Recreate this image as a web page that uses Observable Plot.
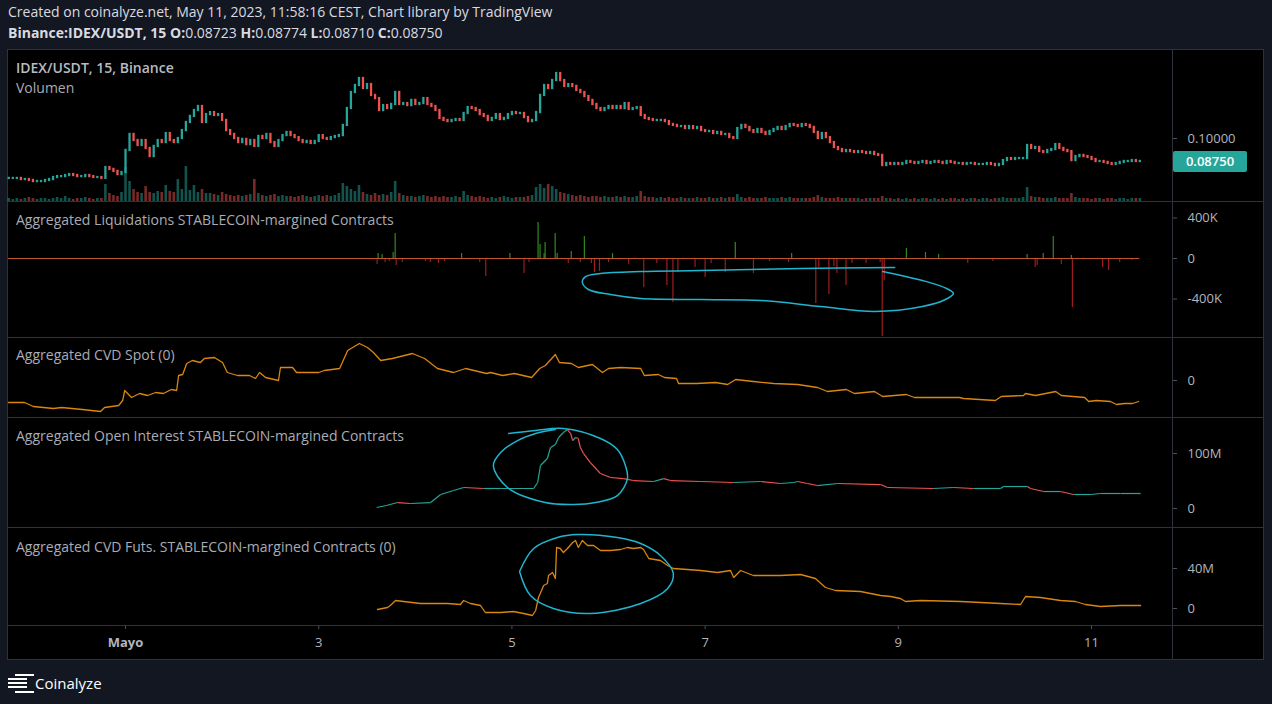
<!DOCTYPE html>
<html><head><meta charset="utf-8">
<script src="https://cdn.jsdelivr.net/npm/d3@7"></script>
<script src="https://cdn.jsdelivr.net/npm/@observablehq/plot@0.6"></script>
<style>
html,body{margin:0;padding:0;}
body{background:#131722;width:1272px;height:704px;overflow:hidden;position:relative;font-family:"Open Sans",sans-serif;}
.abs{position:absolute;}
.hdr{left:8px;color:#d9dbe0;font-size:14px;line-height:18px;white-space:nowrap;}
.ttl{left:16px;color:#a9acb5;font-size:14px;line-height:18px;white-space:nowrap;}
.hl{position:absolute;left:8px;width:1255px;height:1px;background:#2e323d;}
.panel svg{display:block;}
</style></head><body>
<div class="abs hdr" style="top:3px">Created on coinalyze.net, May 11, 2023, 11:58:16 CEST, Chart library by TradingView</div>
<div class="abs hdr" style="top:24px"><b>Binance:IDEX/USDT, 15 O:</b>0.08723 <b>H:</b>0.08774 <b>L:</b>0.08710 <b>C:</b>0.08750</div>
<div class="abs" style="left:8px;top:50px;width:1255px;height:609px;background:#000;box-shadow:0 0 0 1px #2e323d;"></div>
<div id="charts"></div>
<div class="hl" style="top:201px"></div>
<div class="hl" style="top:337px"></div>
<div class="hl" style="top:417px"></div>
<div class="hl" style="top:527px"></div>
<div class="hl" style="top:625px"></div>
<div class="abs" style="left:1172px;top:50px;width:1px;height:609px;background:#2e323d"></div>
<div class="abs ttl" style="top:59px;font-weight:600;color:#b8bbc3">IDEX/USDT, 15, Binance</div>
<div class="abs ttl" style="top:79px">Volumen</div>
<div class="abs ttl" style="top:211px">Aggregated Liquidations STABLECOIN-margined Contracts</div>
<div class="abs ttl" style="top:346px">Aggregated CVD Spot (0)</div>
<div class="abs ttl" style="top:427px">Aggregated Open Interest STABLECOIN-margined Contracts</div>
<div class="abs ttl" style="top:538px">Aggregated CVD Futs. STABLECOIN-margined Contracts (0)</div>
<div id="pricebox" class="abs" style="left:1173px;width:74px;height:21px;background:#26a69a;color:#fff;font-size:13px;line-height:21px;font-weight:600;text-align:center;border-radius:2px"></div>
<div class="abs" style="left:15px;top:674px;width:19px;height:2px;background:#fff"></div>
<div class="abs" style="left:8px;top:678px;width:19px;height:2px;background:#fff"></div>
<div class="abs" style="left:8px;top:682px;width:19px;height:2px;background:#fff"></div>
<div class="abs" style="left:8px;top:686px;width:19px;height:2px;background:#fff"></div>
<div class="abs" style="left:15px;top:691px;width:19px;height:2px;background:#fff"></div>
<div class="abs" style="left:35px;top:673px;color:#fff;font-size:15px;line-height:20px">Coinalyze</div>
<script>
// ---- time helpers (hours relative to 2023-05-01 00:00) ----
const T0 = Date.UTC(2023, 4, 1);
const at = h => new Date(T0 + h * 3600e3);
const viewStartHour = -29.07, viewEndHour = 260.12;

// ---- price: hourly closes starting at hour -29 ----
const priceStartHour = -29;
const priceClose = [
0.0783,0.0783,0.0783,0.0777,0.0777,0.0772,0.0766,0.0766,0.0766,0.0772,
0.0777,0.0788,0.0793,0.0793,0.0799,0.0804,0.0799,0.0793,0.0793,0.0799,
0.0793,0.0788,0.0788,0.0783,0.0842,0.0832,0.0821,0.0804,0.0815,0.0935,
0.1022,0.0989,0.0962,0.0989,0.0946,0.0902,0.0957,0.0989,0.0978,0.1027,
0.0989,0.0978,0.1000,0.1043,0.1087,0.1120,0.1152,0.1174,0.1087,0.1130,
0.1141,0.1125,0.1130,0.1098,0.1043,0.1022,0.1000,0.0978,0.0995,0.0967,
0.0989,0.0957,0.1011,0.1000,0.1022,0.0978,0.0957,0.0989,0.1016,0.1033,
0.1016,0.1005,0.0989,0.0978,0.0984,0.0973,0.0984,0.1016,0.1000,0.0995,
0.1005,0.1011,0.1016,0.1071,0.1163,0.1250,0.1288,0.1326,0.1272,0.1293,
0.1234,0.1217,0.1152,0.1179,0.1163,0.1185,0.1250,0.1185,0.1190,0.1179,
0.1207,0.1185,0.1190,0.1217,0.1185,0.1174,0.1152,0.1109,0.1098,0.1092,
0.1098,0.1103,0.1098,0.1136,0.1168,0.1163,0.1152,0.1130,0.1120,0.1098,
0.1109,0.1130,0.1103,0.1109,0.1130,0.1141,0.1136,0.1136,0.1114,0.1092,
0.1098,0.1141,0.1234,0.1288,0.1272,0.1315,0.1353,0.1315,0.1283,0.1293,
0.1283,0.1261,0.1250,0.1228,0.1207,0.1185,0.1163,0.1152,0.1163,0.1174,
0.1163,0.1174,0.1163,0.1190,0.1158,0.1163,0.1168,0.1125,0.1109,0.1103,
0.1098,0.1098,0.1098,0.1092,0.1076,0.1071,0.1065,0.1065,0.1054,0.1065,
0.1054,0.1060,0.1043,0.1038,0.1038,0.1027,0.1033,0.1022,0.1022,0.1005,
0.1000,0.1054,0.1071,0.1060,0.1043,0.1033,0.1049,0.1033,0.1022,0.1038,
0.1049,0.1060,0.1049,0.1065,0.1076,0.1071,0.1065,0.1076,0.1071,0.1060,
0.1033,0.1000,0.1027,0.1005,0.0978,0.0951,0.0940,0.0929,0.0935,0.0929,
0.0924,0.0929,0.0924,0.0918,0.0924,0.0913,0.0908,0.0853,0.0864,0.0859,
0.0864,0.0859,0.0864,0.0875,0.0870,0.0864,0.0870,0.0875,0.0864,0.0870,
0.0875,0.0870,0.0864,0.0875,0.0870,0.0864,0.0864,0.0859,0.0864,0.0864,
0.0859,0.0859,0.0859,0.0864,0.0859,0.0853,0.0859,0.0880,0.0891,0.0886,
0.0891,0.0891,0.0891,0.0962,0.0946,0.0951,0.0929,0.0924,0.0935,0.0940,
0.0967,0.0946,0.0935,0.0929,0.0880,0.0902,0.0908,0.0902,0.0897,0.0886,
0.0875,0.0875,0.0870,0.0864,0.0859,0.0864,0.0870,0.0875,0.0875,0.0880,0.0875,0.0875];

// ---- volume (hourly, arbitrary units) ----
const volume = [
3,2,3,2,3,4,3,2,3,3,2,3,4,3,5,3,2,3,3,4,3,2,3,3,
17,8,6,5,9,34,
20,12,9,8,15,9,8,10,9,16,
10,9,22,12,35,11,16,9,12,8,
8,7,6,9,7,6,5,6,5,6,
7,22,8,6,5,6,7,5,6,5,
5,4,5,6,5,4,5,6,5,6,
5,6,8,18,15,12,10,16,9,7,
6,8,6,7,6,9,20,8,6,5,
5,4,5,6,5,4,5,4,5,4,
4,5,4,10,6,5,4,5,4,3,
4,3,4,5,4,3,4,4,4,5,
6,14,17,13,17,15,12,9,8,7,
6,5,6,5,4,5,5,4,5,4,
4,5,4,5,4,4,5,10,5,4,
4,3,4,3,4,3,3,4,3,3,
3,4,3,3,4,3,3,4,3,4,
4,7,4,3,4,3,3,3,4,3,
3,3,4,3,4,3,3,3,3,3,
4,6,4,3,3,3,4,3,3,3,
3,3,2,3,3,3,3,5,3,3,
2,3,2,3,2,3,2,3,3,2,
3,2,3,2,3,3,2,3,2,3,
3,2,3,3,2,3,3,4,3,3,
3,3,4,14,5,4,4,3,3,3,
4,3,3,3,8,4,3,3,3,2,
3,3,2,3,3,2,3,3,2,3,3,3];

// ---- liquidations [hour, USD] ----
const liquidations = [
[62.75,49000],[63.75,40000],[66.5,59000],[67,247000],[83.5,49000],[95.5,49000],[102.5,356000],[103,138000],
[104,49000],[104.25,158000],[106.75,247000],[107.25,49000],[110.75,69000],[114,217000],[121,49000],[151.5,158000],
[165.5,49000],[194,99000],[198.75,59000],[202,40000],[224,40000],[228,49000],[230.5,217000],[235,30000],
[62.5,-59000],[64.5,-40000],[65.5,-30000],[67.25,-69000],[68.75,-40000],[74.5,-30000],[75.75,-40000],[77.75,-50000],
[79.25,-30000],[88,-40000],[89.5,-178000],[99,-148000],[100.25,-40000],[110,-50000],[113,-40000],[115.75,-50000],
[116.5,-138000],[117.75,-128000],[120,-40000],[125,-60000],[128.75,-286000],[132,-50000],[134.5,-267000],[136,-435000],
[137.25,-138000],[141.5,-89000],[144,-188000],[145.5,-50000],[149,-138000],[156,-148000],[160,-30000],[164.75,-40000],
[171.5,-444000],[172.25,-89000],[174.75,-356000],[176,-79000],[176.75,-148000],[179,-267000],[180.5,-50000],[184,-50000],
[187.5,-40000],[188,-770000],[188.5,-217000],[209.25,-49000],[215.5,-30000],[226,-89000],[226.5,-69000],[232.5,-59000],
[235.25,-484000],[242.75,-89000],[244.25,-119000],[247,-40000],[250,-20000]];
const liqLineEndHour = 252;

// ---- CVD spot [hour, millions] ----
const cvdSpot = [
[-29.07,-2.2],[-25.1,-2.2],[-22.9,-2.6],[-17.9,-2.8],[-15.9,-2.7],[-10.7,-2.9],[-6.2,-3.1],[-5.2,-2.7],[-1.7,-2.5],[-0.7,-2.0],
[-0.2,-1.0],[1.5,-1.7],[3.5,-1.3],[5.5,-1.5],[7.5,-1.2],[9.4,-1.3],[11.4,-0.9],[12.7,-1.0],[13.2,0.5],[14.2,0.6],
[15.2,1.7],[16.6,2.0],[18.6,1.8],[19.6,2.2],[22.1,2.3],[24.1,1.8],[25.3,0.8],[27.8,0.5],[30.8,0.5],[32.3,0.2],
[33.3,0.8],[34.8,0.3],[38.0,0.0],[38.5,1.3],[41.5,1.3],[42.5,0.8],[48.0,0.8],[49.4,1.0],[53.2,1.2],[55.2,3.0],
[58.1,3.7],[60.1,3.3],[61.6,2.8],[63.4,2.0],[66.3,2.2],[67.3,2.3],[71.3,2.7],[74.3,2.2],[77.5,1.2],[81.5,0.8],
[84.5,1.2],[89.7,0.7],[90.7,0.8],[93.7,0.5],[96.6,0.7],[100.9,0.3],[102.9,1.2],[104.3,1.5],[106.8,2.6],[107.8,1.8],
[110.8,1.7],[112.5,1.3],[116.0,1.6],[118.5,0.8],[120.0,1.2],[123.0,1.3],[128.0,1.2],[128.9,0.5],[132.4,0.6],[133.9,0.3],
[136.9,0.2],[137.4,-0.3],[141.9,-0.3],[146.6,-0.2],[149.6,-0.4],[151.6,0.1],[156.0,-0.1],[161.0,-0.3],[167.0,-0.4],[171.9,-0.7],
[174.4,-1.1],[179.1,-0.9],[181.1,-1.3],[186.1,-1.1],[188.1,-1.6],[194.0,-1.4],[196.0,-1.7],[202.0,-1.7],[207.2,-1.7],[208.2,-1.8],
[216.1,-2.0],[217.6,-1.6],[223.1,-1.5],[223.6,-1.3],[226.1,-1.5],[231.1,-1.1],[232.5,-1.5],[238.3,-1.7],[239.3,-2.1],[241.2,-2.0],
[244.7,-2.1],[246.2,-2.4],[248.2,-2.3],[250.2,-2.3],[251.7,-2.1]];

// ---- open interest [hour, millions USD] ----
const openInterest = [
[62.4,1.8],[64.8,5.5],[67.6,10.9],[70.8,9.1],[75.8,10.9],[78.3,25.5],[81.5,32.7],[84.0,38.2],[89.0,36.4],[93.2,36.4],
[101.4,36.4],[102.4,47.3],[103.1,78.2],[104.8,90.9],[105.6,110.9],[106.8,116.4],[107.6,129.1],[108.8,138.2],[109.8,143.6],[110.6,136.4],
[111.1,123.6],[111.8,129.1],[112.5,127.3],[113.0,110.9],[113.8,100.0],[115.5,83.6],[117.3,69.1],[118.0,63.6],[120.5,56.4],[123.7,54.5],
[126.2,50.9],[131.2,49.1],[133.7,54.5],[135.4,50.9],[142.9,49.1],[151.1,47.3],[157.8,49.1],[162.7,45.5],[166.0,47.3],[167.0,49.1],
[169.4,45.5],[171.9,41.8],[176.9,45.5],[187.6,43.6],[189.3,38.2],[200.7,36.4],[205.7,38.2],[210.7,36.4],[217.4,36.4],[218.1,40.0],
[224.1,40.0],[224.8,36.4],[228.1,30.9],[232.3,30.9],[235.5,25.5],[239.8,25.5],[242.2,27.3],[247.2,27.3],[252.2,27.3]];

// ---- CVD futures [hour, millions] ----
const cvdFutures = [
[62.6,-1],[65.1,1],[65.8,3],[67.1,8],[69.1,7],[73.3,5],[76.5,5],[80.0,5],[83.2,4],[84.0,8],
[85.7,5],[88.2,3],[89.4,-4],[93.2,-4],[96.4,-3],[98.9,-5],[101.1,-7],[101.9,-2],[102.6,11],[103.9,23],
[104.8,25],[105.1,33],[106.1,36],[106.8,30],[107.1,61],[108.0,60],[108.8,56],[109.8,60],[111.1,66],[111.8,68],
[112.5,61],[113.5,68],[114.8,63],[116.3,63],[118.0,58],[120.5,58],[123.0,59],[124.7,61],[126.2,60],[128.0,61],
[128.7,59],[130.0,50],[132.9,48],[134.7,43],[136.1,40],[139.6,39],[142.9,38],[147.1,36],[150.3,38],[151.1,31],
[152.8,38],[156.0,33],[162.7,33],[167.7,34],[171.4,30],[173.9,21],[176.4,18],[182.6,17],[187.6,13],[190.1,12],
[192.5,10],[193.8,7],[197.5,8],[207.5,7],[212.4,6],[217.4,5],[222.4,4],[223.6,12],[227.3,11],[232.3,8],
[236.0,7],[238.5,4],[242.2,2],[247.2,3],[252.2,3]];

// ---- hand-drawn annotations [hour, value] ----
const liqLoop = [[191.1,-89000],[167.7,-99000],[142.9,-119000],[128.0,-128000],[118.0,-148000],[114.3,-178000],[113.5,-237000],
[115.0,-306000],[120.5,-356000],[128.0,-395000],[142.9,-405000],[158.0,-415000],[172.7,-474000],[186.1,-523000],[198.0,-474000],
[203.7,-405000],[205.7,-346000],[204.0,-296000],[198.0,-217000],[193.8,-178000],[188.1,-128000]];
const oiLoop = [[95.2,136.4],[101.9,141.8],[108.8,145.4],[118.0,127.3],[122.2,107.3],[124.2,78.2],[124.7,54.5],[122.2,23.6],
[116.8,10.9],[111.3,7.3],[104.3,10.9],[94.9,38.2],[91.4,78.2],[93.2,101.8],[97.4,123.6],[101.9,136.4],[106.8,143.6]];
const cvdLoop = [[97.9,37],[101.4,60],[107.3,71],[112.3,74],[122.2,71],[128.0,65],[132.9,53],[136.1,35],[134.7,20],
[128.0,5],[115.5,-5],[106.3,0],[100.6,13],[97.9,37]];

// ---- x axis ticks ----
const dayTickHours = [0, 48, 96, 144, 192, 240];
const dayTickLabels = ["Mayo", "3", "5", "7", "9", "11"];

// ================= drawing =================
const UP = "#26a69a", DOWN = "#ef5350";
const W = 1255, MR = 91;
const xOpt = {type: "utc", domain: [at(viewStartHour), at(viewEndHour)], axis: null};
const style = {background: "transparent", color: "#b2b5be", fontSize: "13px", fontFamily: "'Open Sans', sans-serif", overflow: "visible"};
const charts = document.getElementById("charts");
function place(svg, top) {
  const d = document.createElement("div");
  d.className = "panel abs";
  d.style.left = "8px"; d.style.top = top + "px";
  d.appendChild(svg); charts.appendChild(d);
}
function yAxis(ticks, fmt) {
  return Plot.axisY(ticks, {anchor: "right", tickSize: 4, tickPadding: 11, tickFormat: fmt, stroke: "#4c505b", fill: "#b2b5be", label: null});
}
const base = h => ({width: W, height: h, marginLeft: 0, marginRight: MR, marginTop: 0, marginBottom: 0, x: xOpt, style, color: {type: "identity"}});

const candles = priceClose.map((c, i) => ({t: at(priceStartHour + i), open: i ? priceClose[i - 1] : c, close: c, vol: volume[i]}));
candles.forEach(d => d.col = d.close >= d.open ? UP : DOWN);

// volume overlay
place(Plot.plot({...base(151), y: {domain: [0, 151], axis: null},
  marks: [Plot.ruleX(candles, {x: "t", y1: 0, y2: "vol", stroke: "col", strokeOpacity: 0.5, strokeWidth: 2.6})]}), 50);

// price
const pricePlot = Plot.plot({...base(151), y: {domain: [0.06576, 0.14783], axis: null},
  marks: [
    yAxis([0.1], d3.format(".5f")),
    Plot.ruleX(candles, {x: "t", y1: "open", y2: "close", stroke: "col", strokeWidth: 2.3, strokeLinecap: "square"})
  ]});
place(pricePlot, 50);
const last = priceClose[priceClose.length - 1];
const pb = document.getElementById("pricebox");
pb.textContent = d3.format(".5f")(last);
pb.style.top = (50 + pricePlot.scale("y").apply(last) - 10.5) + "px";

// liquidations
const liq = liquidations.map(([h, v]) => ({t: at(h), v, col: v > 0 ? "#2f8a1f" : "#9e1d1d"}));
const kFmt = d => d === 0 ? "0" : (d / 1000) + "K";
place(Plot.plot({...base(136), y: {domain: [-780000, 563000], axis: null},
  marks: [
    yAxis([-400000, 0, 400000], kFmt),
    Plot.ruleX(liq, {x: "t", y1: 0, y2: "v", stroke: "col", strokeWidth: 1.2}),
    Plot.ruleY([{y: 0, a: at(viewStartHour), b: at(liqLineEndHour)}], {y: "y", x1: "a", x2: "b", stroke: "#c0562c", strokeWidth: 1.2}),
    Plot.line(liqLoop, {x: d => at(d[0]), y: d => d[1], curve: "catmull-rom", stroke: "#1fb5cf", strokeWidth: 1.5})
  ]}), 201);

// CVD spot
place(Plot.plot({...base(80), y: {domain: [-3.7, 4.3], axis: null},
  marks: [
    yAxis([0], d => "0"),
    Plot.line(cvdSpot, {x: d => at(d[0]), y: d => d[1], stroke: "#d9860f", strokeWidth: 1.3})
  ]}), 337);

// open interest
const oiSeg = openInterest.slice(1).map((p, i) => {
  const q = openInterest[i];
  return {t1: at(q[0]), v1: q[1], t2: at(p[0]), v2: p[1], col: p[1] >= q[1] ? UP : DOWN};
});
place(Plot.plot({...base(110), y: {domain: [-34.5, 165.5], axis: null},
  marks: [
    yAxis([0, 100], d => d === 0 ? "0" : d + "M"),
    Plot.link(oiSeg, {x1: "t1", y1: "v1", x2: "t2", y2: "v2", stroke: "col", strokeWidth: 1.2}),
    Plot.line(oiLoop, {x: d => at(d[0]), y: d => d[1], curve: "catmull-rom", stroke: "#1fb5cf", strokeWidth: 1.5})
  ]}), 417);

// CVD futures
place(Plot.plot({...base(98), y: {domain: [-17, 81], axis: null},
  marks: [
    yAxis([0, 40], d => d === 0 ? "0" : d + "M"),
    Plot.line(cvdFutures, {x: d => at(d[0]), y: d => d[1], stroke: "#d9860f", strokeWidth: 1.3}),
    Plot.line(cvdLoop, {x: d => at(d[0]), y: d => d[1], curve: "catmull-rom", stroke: "#1fb5cf", strokeWidth: 1.5})
  ]}), 527);

// time axis
const tk = dayTickHours.map((h, i) => ({t: at(h), label: dayTickLabels[i]}));
place(Plot.plot({...base(34), y: {domain: [0, 34], range: [0, 34], axis: null},
  marks: [
    Plot.ruleX(tk, {x: "t", y1: 0, y2: 4, stroke: "#4c505b"}),
    Plot.text(tk.slice(0, 1), {x: "t", y: 17, text: "label", fill: "#b2b5be", fontWeight: "bold", fontSize: 13}),
    Plot.text(tk.slice(1), {x: "t", y: 17, text: "label", fill: "#b2b5be", fontSize: 13})
  ]}), 625);
</script>
</body></html>
